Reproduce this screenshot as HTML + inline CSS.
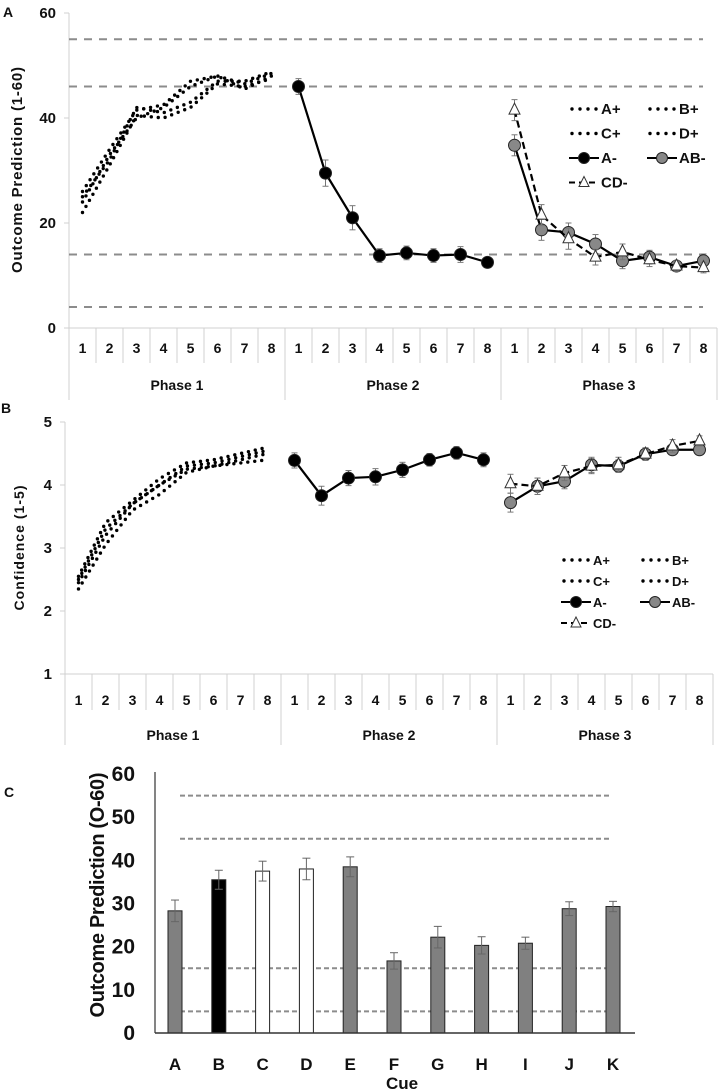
<!DOCTYPE html>
<html><head><meta charset="utf-8"><style>
body{margin:0;background:#fff;}
svg{display:block;font-family:"Liberation Sans",sans-serif;}
text{font-weight:bold;fill:#111;}
</style></head><body>
<svg id="fig" width="721" height="1092" viewBox="0 0 721 1092" xmlns="http://www.w3.org/2000/svg"></svg>
<script>
// ---------- Panel A data (Outcome Prediction) ----------
const trialLabels = ["1","2","3","4","5","6","7","8"];
const phaseLabels = ["Phase 1","Phase 2","Phase 3"];
const aTicks = [0,20,40,60];
const aRefLines = [55,46,14,4];
const aPlusA = [26,34,41.5,42.5,47,48,46.5,48.5];
const aPlusB = [24,33,40,42,46,48,45.5,48];
const aPlusC = [22,31,40.5,40,42,46.5,46,47.5];
const aPlusD = [25,32,42,41,43,47,47,48.8];
const aMinusA = [46,29.5,21,13.8,14.3,13.8,14,12.5];
const aMinusAErr = [1.5,2.5,2.3,1.3,1.3,1.3,1.5,1];
const aMinusAB = [34.8,18.7,18.2,16,12.8,13.5,11.8,12.8];
const aMinusABErr = [2,2,1.8,1.8,1.5,1.3,1,1.3];
const aMinusCD = [41.5,21.5,17,13.5,14.5,13,11.8,11.5];
const aMinusCDErr = [2,2,2,1.5,1.5,1.3,1,1];
// ---------- Panel B data (Confidence) ----------
const bTicks = [1,2,3,4,5];
const bPlusA = [2.55,3.4,3.75,4.1,4.35,4.4,4.5,4.6];
const bPlusB = [2.5,3.3,3.7,4.0,4.3,4.35,4.45,4.55];
const bPlusC = [2.45,3.2,3.7,4.0,4.25,4.3,4.4,4.5];
const bPlusD = [2.35,3.05,3.6,3.85,4.2,4.3,4.35,4.4];
const bMinusA = [4.39,3.83,4.11,4.13,4.24,4.40,4.51,4.40];
const bMinusAErr = [0.12,0.15,0.12,0.13,0.12,0.1,0.1,0.11];
const bMinusAB = [3.72,3.98,4.06,4.32,4.3,4.49,4.56,4.56];
const bMinusABErr = [0.15,0.13,0.12,0.12,0.1,0.1,0.08,0.08];
const bMinusCD = [4.02,3.98,4.19,4.3,4.32,4.49,4.62,4.7];
const bMinusCDErr = [0.15,0.13,0.12,0.12,0.12,0.1,0.1,0.08];
// ---------- Panel C data ----------
const cues = ["A","B","C","D","E","F","G","H","I","J","K"];
const cueValues = [28.3,35.5,37.5,38,38.5,16.7,22.2,20.3,20.8,28.8,29.3];
const cueErrors = [2.5,2.2,2.3,2.5,2.3,1.9,2.5,2,1.4,1.6,1.2];
const cueFills = ["#808080","#000000","#ffffff","#ffffff","#808080","#808080","#808080","#808080","#808080","#808080","#808080"];
const cTicks = [0,10,20,30,40,50,60];
const cRefLines = [55,45,15,5];

const NS="http://www.w3.org/2000/svg";
const svg=document.getElementById('fig');
function mk(tag,attrs,parent){const e=document.createElementNS(NS,tag);for(const k in attrs)e.setAttribute(k,attrs[k]);(parent||svg).appendChild(e);return e;}
function txt(s,x,y,size,anchor,parent){const t=mk('text',{x:x,y:y,'font-size':size,'text-anchor':anchor||'middle'},parent);t.textContent=s;return t;}

function linePanel(cfg){
  const g=mk('g',{});
  
  
  const x0=cfg.x0,cw=27,y0=cfg.y0,ytop=cfg.ytop,vmin=cfg.vmin,vmax=cfg.vmax;
  const yS=v=>y0-(v-vmin)/(vmax-vmin)*(y0-ytop);
  const xS=(phase,i)=>x0+cw*(phase*8+i+0.5);
  const xEnd=x0+cw*24;
  const ax=mk('line',{x1:x0,y1:ytop,x2:x0,y2:y0,stroke:'#d0d0d0','stroke-width':1},g);
  
  cfg.ticks.forEach(t=>{
    mk('line',{x1:x0-5,y1:yS(t),x2:x0,y2:yS(t),stroke:'#d0d0d0'},g);
    const l=txt(String(t),x0-13,yS(t)+5,15,'end',g);
    
  });
  const xa=mk('line',{x1:x0,y1:y0,x2:xEnd,y2:y0,stroke:'#d0d0d0'},g);
  
  for(let c=0;c<=24;c++){
    const xx=x0+c*cw;
    mk('line',{x1:xx,y1:y0,x2:xx,y2:(c%8===0)?y0+cfg.phaseH:y0+cfg.cellH,stroke:'#d0d0d0'},g);
  }
  for(let p=0;p<3;p++){
    trialLabels.forEach((s,i)=>{const t=txt(s,xS(p,i),y0+cfg.numY,14,'middle',g);
      });
    const pl=txt(phaseLabels[p],x0+cw*(p*8+4),y0+cfg.phY,14,'middle',g);
    
  }
  (cfg.refs||[]).forEach(v=>{
    const r=mk('line',{x1:x0,y1:yS(v),x2:703,y2:yS(v),stroke:'#8c8c8c','stroke-width':2,'stroke-dasharray':'8 7'},g);
    
  });
  cfg.plus.forEach(arr=>{
    const pts=arr.map((v,i)=>xS(0,i)+','+yS(v)).join(' ');
    const pl=mk('polyline',{points:pts,fill:'none',stroke:'#000','stroke-width':3.4,'stroke-linecap':'round','stroke-dasharray':'0 7'},g);
    
  });
  function series(arr,err,phase,dash,marker,fill){
    arr.forEach((v,i)=>{
      const x=xS(phase,i);
      mk('line',{x1:x,y1:yS(v+err[i]),x2:x,y2:yS(v-err[i]),stroke:'#777','stroke-width':1},g);
      mk('line',{x1:x-3,y1:yS(v+err[i]),x2:x+3,y2:yS(v+err[i]),stroke:'#777'},g);
      mk('line',{x1:x-3,y1:yS(v-err[i]),x2:x+3,y2:yS(v-err[i]),stroke:'#777'},g);
    });
    const pts=arr.map((v,i)=>xS(phase,i)+','+yS(v)).join(' ');
    const a={points:pts,fill:'none',stroke:'#000','stroke-width':2.2};
    if(dash)a['stroke-dasharray']='7 4';
    const pl=mk('polyline',a,g);
    
    arr.forEach((v,i)=>{
      const x=xS(phase,i),y=yS(v);let m;
      if(marker==='tri') m=mk('polygon',{points:`${x},${y-7} ${x-5.5},${y+4} ${x+5.5},${y+4}`,fill:'#fff',stroke:'#333','stroke-width':1},g);
      else m=mk('circle',{cx:x,cy:y,r:6,fill:fill,stroke:'#222','stroke-width':1},g);
      
    });
  }
  series(cfg.mA,cfg.mAe,1,false,'c','#000');
  series(cfg.mAB,cfg.mABe,2,false,'c','#888');
  series(cfg.mCD,cfg.mCDe,2,true,'tri');
  const yt=txt(cfg.title,0,0,cfg.tSize,'middle',g);
  yt.setAttribute('transform',`translate(${cfg.tX},${cfg.tY}) rotate(-90)`);
  yt.setAttribute('textLength',cfg.tLen);
  
  const L=cfg.leg;const lg=mk('g',{},g);
  
  const items=[["A+",0,0,'dot'],["B+",1,0,'dot'],["C+",0,1,'dot'],["D+",1,1,'dot'],["A-",0,2,'blk'],["AB-",1,2,'gry'],["CD-",0,3,'tri']];
  items.forEach(([s,c,r,k])=>{
    const lx=L.x+c*L.dx, ly=L.y+r*L.dy;
    const e=mk('g',{},lg);
    
    if(k==='dot') mk('line',{x1:lx+3,y1:ly,x2:lx+30,y2:ly,stroke:'#000','stroke-width':3.4,'stroke-linecap':'round','stroke-dasharray':'0 8'},e);
    else if(k==='tri'){mk('line',{x1:lx,y1:ly,x2:lx+30,y2:ly,stroke:'#000','stroke-width':2,'stroke-dasharray':'6 4'},e);
      mk('polygon',{points:`${lx+15},${ly-6} ${lx+10},${ly+4} ${lx+20},${ly+4}`,fill:'#fff',stroke:'#333'},e);}
    else {mk('line',{x1:lx,y1:ly,x2:lx+30,y2:ly,stroke:'#000','stroke-width':2},e);
      mk('circle',{cx:lx+15,cy:ly,r:5.5,fill:k==='blk'?'#000':'#888',stroke:'#222'},e);}
    txt(s,lx+32,ly+5,L.fs,'start',e);
  });
}

linePanel({name:'panel-a-chart',x0:69,y0:328,ytop:13,vmin:0,vmax:60,ticks:aTicks,refs:aRefLines,
  cellH:35,phaseH:72,numY:25,phY:62,plus:[aPlusA,aPlusB,aPlusC,aPlusD],
  mA:aMinusA,mAe:aMinusAErr,mAB:aMinusAB,mABe:aMinusABErr,mCD:aMinusCD,mCDe:aMinusCDErr,
  title:'Outcome Prediction (1-60)',tSize:15,tX:22,tY:170,tLen:206,
  leg:{x:569,y:109,dx:78,dy:24.5,fs:15}});
linePanel({name:'panel-b-chart',x0:65,y0:674,ytop:422,vmin:1,vmax:5,ticks:bTicks,refs:[],
  cellH:36,phaseH:71,numY:31,phY:66,plus:[bPlusA,bPlusB,bPlusC,bPlusD],
  mA:bMinusA,mAe:bMinusAErr,mAB:bMinusAB,mABe:bMinusABErr,mCD:bMinusCD,mCDe:bMinusCDErr,
  title:'Confidence (1-5)',tSize:14,tX:24,tY:548,tLen:125,
  leg:{x:561,y:560,dx:79,dy:21,fs:13}});

[["A",3,17],["B",1,413],["C",4,797]].forEach(([s,x,y])=>{
  const t=txt(s,x,y,14,'start');
  t.setAttribute('font-weight','normal');
});

(function(){
  const g=mk('g',{});
  
  
  const x0=155,x1=635,y0=1033,ytop=774,vmax=60;
  const yS=v=>y0-v/vmax*(y0-ytop);
  const step=(613-175)/10;
  const xS=i=>175+i*step;
  cRefLines.forEach(v=>{
    const r=mk('line',{x1:180,y1:yS(v),x2:610,y2:yS(v),stroke:'#8c8c8c','stroke-width':2,'stroke-dasharray':'5 3'},g);
    
  });
  cueValues.forEach((v,i)=>{
    const x=xS(i);
    const b=mk('rect',{x:x-7,y:yS(v),width:14,height:y0-yS(v),fill:cueFills[i],stroke:'#222','stroke-width':1},g);
    
    const e=cueErrors[i];
    mk('line',{x1:x,y1:yS(v+e),x2:x,y2:yS(v-e),stroke:'#666'},g);
    mk('line',{x1:x-4,y1:yS(v+e),x2:x+4,y2:yS(v+e),stroke:'#666'},g);
    mk('line',{x1:x-4,y1:yS(v-e),x2:x+4,y2:yS(v-e),stroke:'#666'},g);
    const l=txt(cues[i],x,1070,17,'middle',g);
    
  });
  const ya=mk('line',{x1:x0,y1:ytop-2,x2:x0,y2:y0,stroke:'#333','stroke-width':1.2},g);
  
  const xa=mk('line',{x1:x0,y1:y0,x2:x1,y2:y0,stroke:'#333','stroke-width':1.5},g);
  
  cTicks.forEach(t=>{const l=txt(String(t),135,yS(t)+7,21,'end',g);
    });
  const yt=txt('Outcome Prediction (O-60)',0,0,20,'middle',g);
  yt.setAttribute('transform','translate(104,895) rotate(-90)');
  yt.setAttribute('textLength',245);
  
  const xt=txt('Cue',402,1089,17,'middle',g);
  
})();
</script>
</body></html>
